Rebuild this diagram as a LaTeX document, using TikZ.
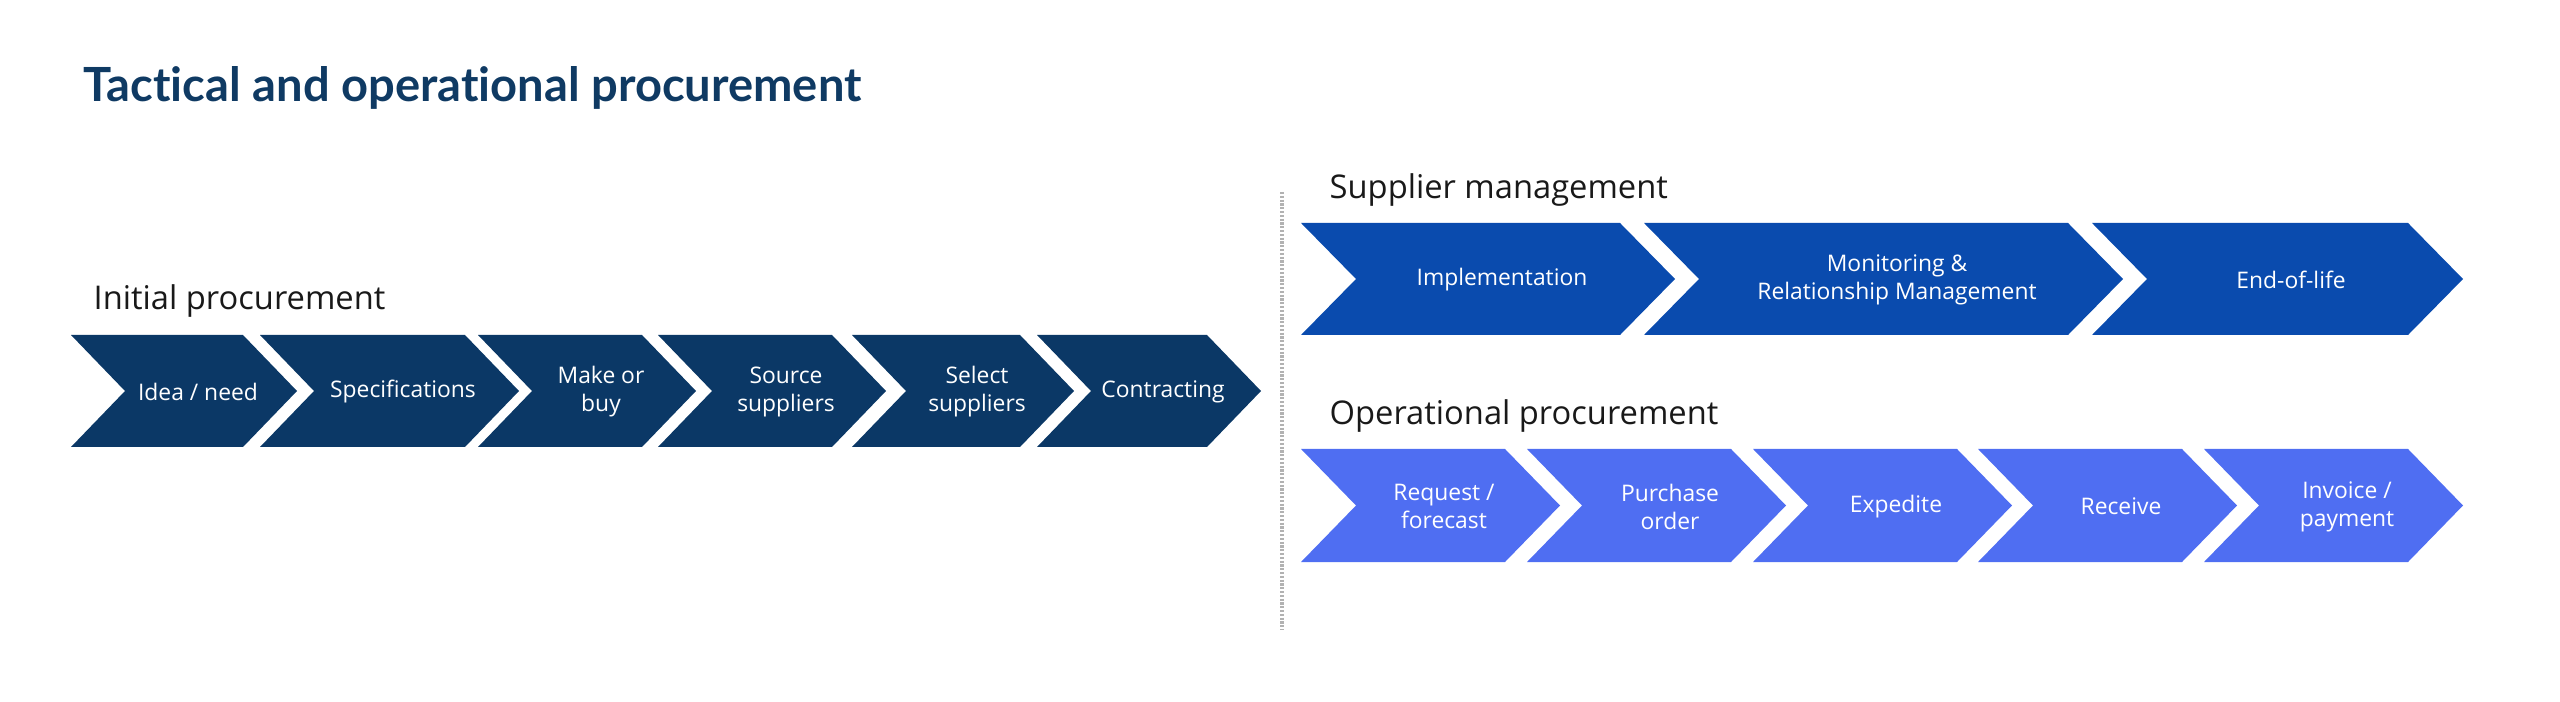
\documentclass[tikz,border=0pt]{standalone}
\usepackage{fontspec}
\setmainfont{Open Sans}
\newfontfamily\titlefont{Lato}[Ligatures=NoCommon]
\usetikzlibrary{calc}
\definecolor{navy}{HTML}{0B3866}
\definecolor{royal}{HTML}{0A4BAE}
\definecolor{cornflower}{HTML}{4F6EF2}
\definecolor{titleblue}{HTML}{0F3A63}
\tikzset{step navy/.style={fill=navy},
  step royal/.style={fill=royal},
  step light/.style={fill=cornflower},
  lbl/.style={text=white, align=center, inner sep=0pt,
    font=\fontsize{6.5}{8}\selectfont},
  heading/.style={anchor=base west, inner sep=0pt, text=black!90,
    font=\fontsize{9.3}{11}\selectfont},
  separator/.style={draw=black!30, line width=0.035cm,
    dash pattern=on 0.022cm off 0.016cm}
}

\begin{document}
\begin{tikzpicture}
  \useasboundingbox (0,0) rectangle (25.6,-7.02);

  % -- Title and headings.
  \node[anchor=base west, inner sep=0pt, text=titleblue,
    font=\titlefont\bfseries\fontsize{13.4}{15}\selectfont] (title) at (0.83,-1.02) {Tactical and operational procurement};
  \node[heading] (initial) at (0.93,-3.10) {Initial procurement};
  \node[heading] (supplier) at (13.29,-1.99) {Supplier management};
  \node[heading] (operational) at (13.29,-4.25) {Operational procurement};

  % -- The dotted separator.
  \coordinate (sepTop) at (12.82,-1.92);
  \coordinate (sepBot) at (12.82,-6.30);
  \draw[separator] (sepTop) -- (sepBot);

  % -- Initial procurement chevrons.
  \fill[step navy] (0.71,-3.35) -- ++(1.72,0) -- ++(0.54,-0.56) -- ++(-0.54,-0.56) -- ++(-1.72,0) -- ++(0.54,0.56) -- cycle;
  \fill[step navy] (2.60,-3.35) -- ++(2.05,0) -- ++(0.54,-0.56) -- ++(-0.54,-0.56) -- ++(-2.05,0) -- ++(0.54,0.56) -- cycle;
  \fill[step navy] (4.78,-3.35) -- ++(1.64,0) -- ++(0.54,-0.56) -- ++(-0.54,-0.56) -- ++(-1.64,0) -- ++(0.54,0.56) -- cycle;
  \fill[step navy] (6.58,-3.35) -- ++(1.74,0) -- ++(0.54,-0.56) -- ++(-0.54,-0.56) -- ++(-1.74,0) -- ++(0.54,0.56) -- cycle;
  \fill[step navy] (8.52,-3.35) -- ++(1.68,0) -- ++(0.54,-0.56) -- ++(-0.54,-0.56) -- ++(-1.68,0) -- ++(0.54,0.56) -- cycle;
  \fill[step navy] (10.37,-3.35) -- ++(1.70,0) -- ++(0.54,-0.56) -- ++(-0.54,-0.56) -- ++(-1.70,0) -- ++(0.54,0.56) -- cycle;
  \node[lbl] (idea) at (1.98,-3.92) {Idea / need};
  \node[lbl] (specs) at (4.03,-3.92) {Specifications};
  \node[lbl] (makebuy) at (6.01,-3.92) {Make or\\buy};
  \node[lbl] (source) at (7.86,-3.92) {Source\\suppliers};
  \node[lbl] (select) at (9.77,-3.92) {Select\\suppliers};
  \node[lbl] (contract) at (11.63,-3.92) {Contracting};

  % -- Supplier management chevrons.
  \fill[step royal] (13.01,-2.23) -- ++(3.19,0) -- ++(0.55,-0.56) -- ++(-0.55,-0.56) -- ++(-3.19,0) -- ++(0.55,0.56) -- cycle;
  \fill[step royal] (16.44,-2.23) -- ++(4.24,0) -- ++(0.55,-0.56) -- ++(-0.55,-0.56) -- ++(-4.24,0) -- ++(0.55,0.56) -- cycle;
  \fill[step royal] (20.92,-2.23) -- ++(3.16,0) -- ++(0.55,-0.56) -- ++(-0.55,-0.56) -- ++(-3.16,0) -- ++(0.55,0.56) -- cycle;
  \node[lbl] (implement) at (15.02,-2.80) {Implementation};
  \node[lbl] (monitor) at (18.97,-2.80) {Monitoring \&\\Relationship Management};
  \node[lbl] (endlife) at (22.91,-2.80) {End-of-life};

  % -- Operational procurement chevrons.
  \fill[step light] (13.01,-4.49) -- ++(2.04,0) -- ++(0.55,-0.565) -- ++(-0.55,-0.565) -- ++(-2.04,0) -- ++(0.55,0.565) -- cycle;
  \fill[step light] (15.27,-4.49) -- ++(2.04,0) -- ++(0.55,-0.565) -- ++(-0.55,-0.565) -- ++(-2.04,0) -- ++(0.55,0.565) -- cycle;
  \fill[step light] (17.53,-4.49) -- ++(2.04,0) -- ++(0.55,-0.565) -- ++(-0.55,-0.565) -- ++(-2.04,0) -- ++(0.55,0.565) -- cycle;
  \fill[step light] (19.78,-4.49) -- ++(2.04,0) -- ++(0.55,-0.565) -- ++(-0.55,-0.565) -- ++(-2.04,0) -- ++(0.55,0.565) -- cycle;
  \fill[step light] (22.04,-4.49) -- ++(2.04,0) -- ++(0.55,-0.565) -- ++(-0.55,-0.565) -- ++(-2.04,0) -- ++(0.55,0.565) -- cycle;
  \node[lbl] (request) at (14.44,-5.065) {Request /\\forecast};
  \node[lbl] (purchase) at (16.70,-5.065) {Purchase\\order};
  \node[lbl] (expedite) at (18.96,-5.065) {Expedite};
  \node[lbl] (receive) at (21.21,-5.065) {Receive};
  \node[lbl] (invoice) at (23.47,-5.065) {Invoice /\\payment};
\end{tikzpicture}
\end{document}
